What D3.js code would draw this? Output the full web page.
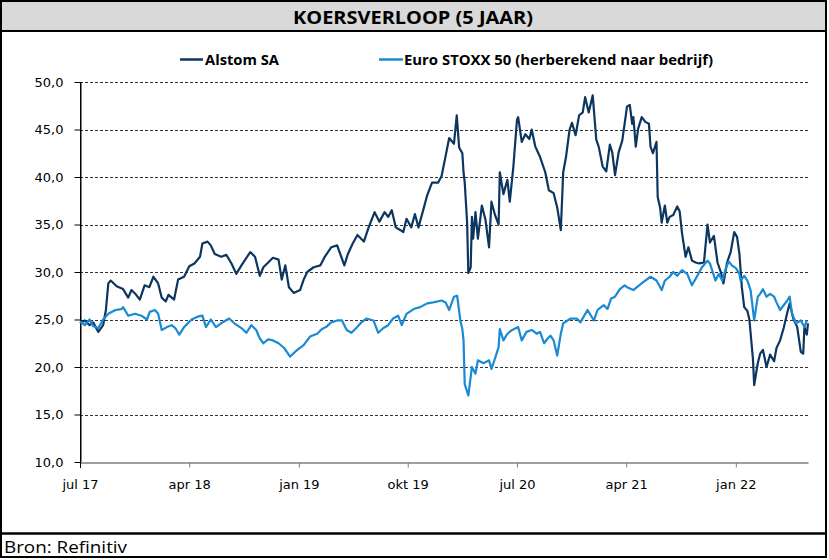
<!DOCTYPE html>
<html><head><meta charset="utf-8">
<script src="https://cdn.jsdelivr.net/npm/d3@7"></script>
<style>body{margin:0;background:#fff} svg{display:block}</style>
</head><body><svg id="c" width="829" height="560"></svg>
<script>
const title = "KOERSVERLOOP (5 JAAR)";
const source = "Bron: Refinitiv";
const seriesNames = ["Alstom SA", "Euro STOXX 50 (herberekend naar bedrijf)"];
const seriesColors = ["#0c365f", "#1a8ad4"];

const alstomDates = [
"2017-07-01","2017-07-13","2017-07-25","2017-08-03","2017-08-16","2017-08-28","2017-09-04","2017-09-10","2017-09-16","2017-10-01",
"2017-10-17","2017-10-30","2017-11-07","2017-11-19","2017-11-28","2017-12-10","2017-12-22","2018-01-01","2018-01-13","2018-01-22",
"2018-02-01","2018-02-08","2018-02-22","2018-03-04","2018-03-19","2018-04-01","2018-04-14","2018-04-28","2018-05-04","2018-05-17",
"2018-05-25","2018-06-04","2018-06-20","2018-07-03","2018-07-16","2018-07-28","2018-08-10","2018-09-01","2018-09-13","2018-09-25",
"2018-10-04","2018-10-16","2018-10-28","2018-11-11","2018-11-19","2018-11-28","2018-12-07","2018-12-19","2019-01-04","2019-01-13",
"2019-01-22","2019-02-07","2019-02-24","2019-03-07","2019-03-23","2019-04-07","2019-04-19","2019-04-25","2019-05-04","2019-05-16",
"2019-05-28","2019-06-13","2019-06-25","2019-07-10","2019-07-22","2019-08-04","2019-08-13","2019-08-22","2019-09-01","2019-09-13",
"2019-09-20","2019-09-28","2019-10-10","2019-10-19","2019-10-28","2019-11-10","2019-11-19","2019-12-01","2019-12-16","2019-12-25",
"2020-01-04","2020-01-13","2020-01-25","2020-02-01","2020-02-07","2020-02-15","2020-02-18","2020-02-21","2020-02-27","2020-03-01",
"2020-03-07","2020-03-10","2020-03-13","2020-03-19","2020-03-25","2020-04-04","2020-04-13","2020-04-22","2020-04-28","2020-05-07",
"2020-05-16","2020-05-19","2020-05-28","2020-06-07","2020-06-13","2020-06-22","2020-07-01","2020-07-04","2020-07-13","2020-07-22",
"2020-08-01","2020-08-07","2020-08-16","2020-08-28","2020-09-10","2020-09-19","2020-10-01","2020-10-10","2020-10-19","2020-10-25",
"2020-11-01","2020-11-10","2020-11-16","2020-11-25","2020-12-04","2020-12-13","2020-12-19","2020-12-28","2021-01-07","2021-01-16",
"2021-01-22","2021-02-01","2021-02-10","2021-02-19","2021-02-25","2021-03-04","2021-03-13","2021-03-22","2021-03-28","2021-04-03",
"2021-04-10","2021-04-16","2021-04-19","2021-04-25","2021-05-01","2021-05-10","2021-05-19","2021-05-28","2021-06-01","2021-06-07",
"2021-06-16","2021-06-19","2021-06-25","2021-06-29","2021-07-07","2021-07-13","2021-07-19","2021-07-28","2021-08-07","2021-08-13",
"2021-08-19","2021-08-28","2021-09-04","2021-09-13","2021-09-22","2021-10-01","2021-10-13","2021-10-22","2021-10-28","2021-11-07",
"2021-11-16","2021-11-25","2021-12-01","2021-12-10","2021-12-19","2021-12-28","2022-01-04","2022-01-10","2022-01-16","2022-01-22",
"2022-01-30","2022-02-04","2022-02-13","2022-02-16","2022-02-25","2022-03-03","2022-03-10","2022-03-19","2022-03-28","2022-04-07",
"2022-04-13","2022-04-22","2022-05-01","2022-05-10","2022-05-16","2022-05-25","2022-06-04","2022-06-13","2022-06-19","2022-06-22",
"2022-06-28","2022-07-01"
];
const alstomValues = [
24.6,24.9,24.4,24.7,23.7,24.4,26.0,28.8,29.1,28.5,
28.2,27.3,28.1,27.6,27.1,28.6,28.4,29.5,28.8,27.3,
26.9,27.6,27.1,29.2,29.5,30.6,30.9,31.6,33.0,33.2,
32.8,31.9,31.6,31.8,30.9,29.8,30.7,32.1,31.6,29.6,
30.5,31.0,31.5,31.3,29.2,30.7,28.4,27.8,28.1,29.2,
30.0,30.5,30.7,31.6,32.6,32.8,31.4,30.7,31.9,33.0,
33.9,33.2,34.7,36.3,35.3,36.3,35.8,36.5,34.7,34.4,
34.2,35.6,34.7,36.1,34.7,36.7,38.1,39.4,39.4,40.1,
42.2,44.1,43.5,46.5,43.1,42.5,40.5,39.4,35.2,29.9,
30.5,35.8,33.5,36.3,33.5,37.0,35.5,32.6,37.4,36.0,
35.0,40.5,38.2,39.7,37.4,41.1,46.0,46.3,43.7,44.5,
44.0,45.0,43.2,42.1,40.5,38.6,38.3,36.8,34.4,40.5,
42.1,45.0,45.7,44.4,46.5,46.8,48.4,46.8,48.6,43.9,
43.2,41.1,40.6,43.4,42.6,40.2,42.6,43.8,45.6,47.4,
47.6,45.6,46.3,43.2,45.1,46.3,45.8,45.6,43.2,42.5,
43.7,37.9,36.8,35.2,37.0,35.2,35.8,36.0,36.9,36.4,
34.1,31.6,32.6,31.2,31.0,30.9,31.0,35.0,33.1,33.8,
31.0,29.9,28.8,31.0,32.1,34.2,33.7,31.9,28.4,26.3,
25.9,25.0,20.8,18.1,20.4,21.4,21.8,20.0,21.3,20.6,
22.0,22.8,24.1,25.7,26.7,25.1,24.2,21.6,21.4,24.2,
23.4,24.6
];

const stoxxDates = [
"2017-07-01","2017-07-13","2017-07-25","2017-08-03","2017-08-16","2017-08-28","2017-09-10","2017-09-28","2017-10-13","2017-10-17",
"2017-10-30","2017-11-16","2017-12-02","2017-12-16","2017-12-23","2018-01-05","2018-01-13","2018-01-22","2018-02-04","2018-02-16",
"2018-02-25","2018-03-07","2018-03-19","2018-04-07","2018-04-22","2018-05-04","2018-05-13","2018-05-25","2018-06-07","2018-06-20",
"2018-07-10","2018-07-23","2018-08-10","2018-08-22","2018-09-04","2018-09-16","2018-09-25","2018-10-04","2018-10-16","2018-10-28",
"2018-11-11","2018-11-25","2018-12-10","2018-12-28","2019-01-13","2019-01-29","2019-02-16","2019-02-28","2019-03-10","2019-03-23",
"2019-04-07","2019-04-19","2019-05-01","2019-05-13","2019-05-25","2019-06-07","2019-06-19","2019-07-07","2019-07-19","2019-08-01",
"2019-08-13","2019-08-25","2019-09-07","2019-09-16","2019-09-28","2019-10-16","2019-11-01","2019-11-19","2019-12-04","2019-12-25",
"2020-01-04","2020-01-13","2020-01-25","2020-02-02","2020-02-10","2020-02-15","2020-02-18","2020-02-21","2020-03-01","2020-03-10",
"2020-03-19","2020-03-25","2020-04-08","2020-04-22","2020-04-28","2020-05-07","2020-05-16","2020-05-19","2020-05-28","2020-06-07",
"2020-06-19","2020-07-04","2020-07-13","2020-07-25","2020-08-07","2020-08-20","2020-08-28","2020-09-07","2020-09-16","2020-09-23",
"2020-10-01","2020-10-10","2020-10-19","2020-10-25","2020-11-13","2020-11-28","2020-12-07","2020-12-25","2021-01-10","2021-01-19",
"2021-01-28","2021-02-04","2021-02-13","2021-02-22","2021-03-04","2021-03-16","2021-03-28","2021-04-03","2021-04-19","2021-04-28",
"2021-05-13","2021-06-01","2021-06-16","2021-06-29","2021-07-07","2021-07-19","2021-07-28","2021-08-07","2021-08-19","2021-09-01",
"2021-09-13","2021-09-25","2021-10-08","2021-10-22","2021-10-28","2021-11-11","2021-11-19","2021-11-28","2021-12-07","2021-12-14",
"2021-12-22","2022-01-01","2022-01-10","2022-01-13","2022-01-22","2022-01-30","2022-02-07","2022-02-13","2022-02-16","2022-02-25",
"2022-03-03","2022-03-10","2022-03-19","2022-03-28","2022-04-07","2022-04-13","2022-04-22","2022-05-01","2022-05-10","2022-05-16",
"2022-05-22","2022-06-01","2022-06-13","2022-06-22","2022-06-28"
];
const stoxxValues = [
24.8,24.4,25.0,24.3,24.1,25.0,25.6,26.0,26.1,26.3,
25.4,25.6,25.4,25.0,25.8,26.0,25.6,23.9,24.2,24.4,
24.1,23.4,24.2,25.0,25.3,25.4,24.2,25.0,24.2,24.6,
25.1,24.6,24.1,23.6,24.4,23.9,23.0,22.5,22.9,22.8,
22.5,22.0,21.1,21.8,22.3,23.2,23.5,24.0,24.2,24.7,
24.9,24.9,23.9,23.6,24.1,24.7,25.1,24.9,23.6,24.1,
24.4,25.1,25.4,24.4,25.6,26.1,26.3,26.7,26.8,27.0,
26.8,26.0,27.4,27.5,24.9,24.0,22.8,18.2,17.0,20.0,
19.3,20.7,20.4,20.7,19.8,20.9,22.1,24.0,22.8,23.5,
23.9,24.2,22.8,23.7,23.9,23.5,23.7,22.5,23.0,23.3,
22.8,21.2,23.5,24.6,25.1,25.1,24.7,26.0,24.9,26.0,
26.3,26.5,26.1,27.2,27.4,28.2,28.6,28.4,28.1,28.4,
28.9,29.5,29.1,28.1,29.1,29.5,30.0,29.6,30.2,29.8,
28.6,29.5,30.5,31.2,30.9,29.1,29.8,29.1,30.4,31.1,
30.7,30.4,29.8,29.1,29.6,29.1,28.1,26.0,24.9,27.4,
27.7,28.2,27.4,27.7,27.4,26.8,26.0,26.5,27.0,27.4,
25.6,24.6,24.9,24.2,24.9
];

const yTicks = [10, 15, 20, 25, 30, 35, 40, 45, 50];
const xTickDates = ["2017-07-01","2018-04-01","2019-01-01","2019-10-01","2020-07-01","2021-04-01","2022-01-01"];
const xTickLabels = ["jul 17","apr 18","jan 19","okt 19","jul 20","apr 21","jan 22"];
const xDomain = ["2017-07-01", "2022-07-01"];

const parse = d3.timeParse("%Y-%m-%d");
const svg = d3.select("#c");
const W = 829, H = 560;
const L = 80, R = 808, T = 82, B = 462;

const x = d3.scaleTime().domain(xDomain.map(parse)).range([L, R]);
const y = d3.scaleLinear().domain([10, 50]).range([B, T]);

// frame & bands
svg.append("rect").attr("x", 0).attr("y", 0).attr("width", W).attr("height", H).attr("fill", "#fff");
svg.append("rect").attr("x", 1).attr("y", 1).attr("width", 825).attr("height", 30).attr("fill", "#d9d9d9");
svg.append("line").attr("x1", 0).attr("x2", 827).attr("y1", 31).attr("y2", 31).attr("stroke", "#000").attr("stroke-width", 2);
svg.append("line").attr("x1", 0).attr("x2", 827).attr("y1", 533.5).attr("y2", 533.5).attr("stroke", "#000").attr("stroke-width", 2.5);
svg.append("rect").attr("x", 1).attr("y", 1).attr("width", 825).attr("height", 556)
  .attr("fill", "none").attr("stroke", "#000").attr("stroke-width", 2);

const narrow = "'Liberation Sans Narrow', 'Open Sans', 'Liberation Sans', sans-serif";
svg.append("text").attr("x", 413).attr("y", 24).attr("text-anchor", "middle")
  .attr("font-family", narrow).attr("font-weight", "bold").attr("font-size", 18)
  .attr("textLength", 240).attr("lengthAdjust", "spacingAndGlyphs").text(title);

svg.append("text").attr("x", 4).attr("y", 553)
  .attr("font-family", narrow).attr("font-size", 16)
  .attr("textLength", 123).attr("lengthAdjust", "spacingAndGlyphs").text(source);

// gridlines
svg.append("g").selectAll("line").data(yTicks.filter(v => v > 10)).join("line")
  .attr("x1", L).attr("x2", R)
  .attr("y1", d => Math.round(y(d)) + 0.5).attr("y2", d => Math.round(y(d)) + 0.5)
  .attr("stroke", "#333").attr("stroke-width", 1).attr("stroke-dasharray", "3,2");

// axes
const font = "'DejaVu Sans', Verdana, sans-serif";
const yAxis = svg.append("g").attr("transform", `translate(${L + 0.5},0)`)
  .call(d3.axisLeft(y).tickValues(yTicks).tickSize(6).tickSizeOuter(0).tickPadding(11)
    .tickFormat(d => d.toFixed(1).replace(".", ",")));
yAxis.select(".domain").attr("stroke", "#000");
yAxis.selectAll(".tick line").attr("stroke", "#000");
yAxis.selectAll("text").attr("font-family", font).attr("font-size", 13).attr("fill", "#000");

const xAxis = svg.append("g").attr("transform", `translate(0,${B + 0.5})`)
  .call(d3.axisBottom(x).tickValues(xTickDates.map(parse)).tickSize(5).tickSizeOuter(0).tickPadding(12)
    .tickFormat((d, i) => xTickLabels[i]));
xAxis.select(".domain").attr("stroke", "#7f7f7f").attr("stroke-width", 1.5);
xAxis.selectAll(".tick line").attr("stroke", "#7f7f7f");
xAxis.selectAll("text").attr("font-family", font).attr("font-size", 13).attr("fill", "#000");
svg.append("line").attr("x1", L + 0.5).attr("x2", L + 0.5).attr("y1", T).attr("y2", B + 6).attr("stroke", "#000");

// lines
const line = d3.line().x(d => x(d.date)).y(d => y(d.v));
const seriesData = [
  alstomValues.map((v, i) => ({ date: parse(alstomDates[i]), v })),
  stoxxValues.map((v, i) => ({ date: parse(stoxxDates[i]), v }))
];
svg.append("g").selectAll("path").data(seriesData).join("path")
  .attr("d", line).attr("fill", "none")
  .attr("stroke", (d, i) => seriesColors[i]).attr("stroke-width", 2.2)
  .attr("stroke-linejoin", "round");

// legend
const legendItems = [
  { x1: 180, x2: 203, tx: 205, len: 74 },
  { x1: 379, x2: 403, tx: 404, len: 309 }
];
const lg = svg.append("g");
legendItems.forEach((it, i) => {
  lg.append("line").attr("x1", it.x1).attr("x2", it.x2).attr("y1", 59.5).attr("y2", 59.5)
    .attr("stroke", seriesColors[i]).attr("stroke-width", 2.5);
  lg.append("text").attr("x", it.tx).attr("y", 65)
    .attr("font-family", narrow).attr("font-weight", "bold").attr("font-size", 14.5)
    .attr("textLength", it.len).attr("lengthAdjust", "spacingAndGlyphs").text(seriesNames[i]);
});
</script>
</body></html>
